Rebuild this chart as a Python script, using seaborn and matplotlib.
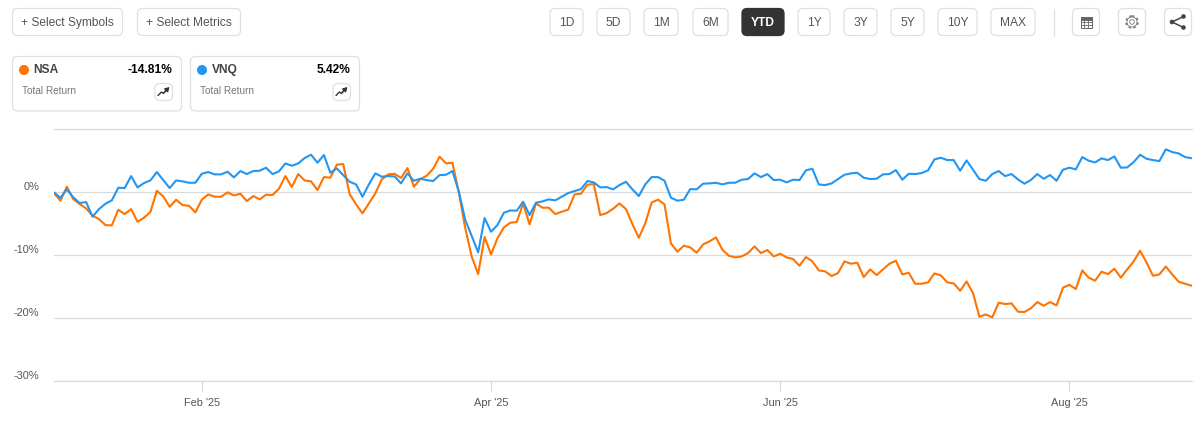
import matplotlib
matplotlib.use('Agg')
import matplotlib.pyplot as plt
import pandas as pd
import seaborn as sns
from matplotlib.patches import FancyBboxPatch, Circle, Rectangle

# Total return in percent, one value per trading day
nsa = [-0.11, -1.32, 0.90, -1.06, -1.85, -2.54, -3.70, -4.23, -5.19, -5.24,
       -2.75, -3.44, -2.65, -4.66, -4.02, -3.12, 0.26, -0.63, -2.28, -1.16,
       -2.01, -2.12, -3.17, -1.16, -0.32, -0.69, -0.69, 0.00, -0.48, -0.21,
       -1.38, -0.58, -1.11, -0.37, -0.42, 0.58, 2.59, 0.85, 2.91, 1.90,
       1.75, 0.37, 2.43, 2.33, 4.39, 4.50, -0.26, -1.90, -3.33, -1.75,
       -0.16, 2.06, 2.86, 2.96, 2.28, 3.86, 0.90, 2.12, 2.65, 3.76,
       5.66, 4.60, 4.71, -0.05, -5.71, -10.21, -12.96, -7.09, -9.84, -7.30,
       -5.56, -4.81, -4.71, -1.75, -5.08, -1.75, -2.43, -2.43, -3.44, -3.07,
       -2.75, -0.32, -0.21, 1.22, 1.32, -3.60, -3.28, -2.59, -1.75, -2.65,
       -5.03, -7.20, -4.92, -1.59, -1.16, -1.90, -8.10, -9.42, -8.47, -8.73,
       -9.58, -8.25, -7.78, -7.14, -9.10, -10.05, -10.32, -10.16, -9.63, -8.57,
       -9.63, -9.15, -10.16, -9.74, -10.32, -10.58, -11.64, -10.26, -10.95, -12.38,
       -12.54, -13.28, -12.80, -10.95, -11.32, -11.16, -13.44, -12.22, -13.12, -12.22,
       -11.32, -10.85, -13.02, -12.75, -14.50, -14.50, -14.29, -12.86, -13.17, -14.29,
       -14.44, -15.61, -14.13, -15.98, -19.74, -19.37, -19.84, -17.51, -17.72, -17.62,
       -18.94, -18.99, -18.41, -17.41, -17.99, -17.41, -17.94, -15.13, -14.66, -15.34,
       -12.38, -13.54, -14.02, -12.59, -12.96, -12.12, -13.54, -12.22, -10.95, -9.26,
       -11.11, -13.23, -13.02, -11.75, -13.02, -14.18, -14.50, -14.81]
vnq = [0.00, -0.85, 0.48, -0.79, -1.69, -1.53, -3.86, -2.65, -1.80, -1.27,
       0.74, 0.69, 2.59, 0.79, 1.48, 1.90, 3.23, 1.96, 0.69, 1.90,
       1.75, 1.53, 1.53, 2.96, 3.23, 2.86, 2.86, 3.28, 2.38, 3.39,
       2.91, 3.39, 3.44, 3.92, 2.91, 3.33, 4.60, 4.23, 4.60, 5.45,
       5.98, 4.71, 5.93, 3.12, 3.81, 2.75, 1.69, 1.27, -0.69, 1.27,
       3.02, 2.49, 2.59, 2.54, 1.43, 3.02, 1.85, 2.17, 1.96, 1.80,
       2.75, 2.80, 3.39, 0.11, -4.39, -6.93, -9.52, -4.07, -6.24, -5.19,
       -3.23, -2.86, -2.91, -1.48, -3.60, -1.64, -1.43, -1.11, -1.27, -0.69,
       -0.11, 0.21, 0.53, 1.80, 1.59, 0.79, 0.85, 0.48, 1.16, 1.69,
       0.48, -0.58, 1.27, 2.43, 2.43, 1.85, -0.85, -1.32, -1.16, 0.53,
       0.48, 1.38, 1.43, 1.53, 1.27, 1.53, 1.53, 2.01, 2.12, 3.02,
       2.43, 2.91, 1.96, 2.01, 1.59, 2.01, 1.96, 3.49, 3.76, 1.27,
       1.16, 1.43, 2.12, 2.80, 3.02, 3.12, 2.33, 2.12, 2.17, 2.86,
       2.91, 3.54, 2.01, 2.96, 2.91, 3.07, 3.49, 5.24, 5.50, 5.13,
       5.13, 3.44, 5.08, 3.60, 2.12, 1.85, 2.91, 3.39, 2.59, 2.91,
       2.06, 1.38, 1.96, 2.91, 2.17, 2.75, 1.85, 3.60, 3.92, 3.65,
       5.61, 5.03, 4.76, 5.40, 5.13, 5.71, 3.92, 3.97, 4.81, 5.98,
       5.34, 5.13, 4.97, 6.83, 6.40, 6.19, 5.61, 5.42]

y_ticks = [10, 0, -10, -20, -30]
y_labels = ['', '0%', '-10%', '-20%', '-30%']
x_ticks = [23, 68, 113, 158]
x_labels = ["Feb '25", "Apr '25", "Jun '25", "Aug '25"]

symbols = ['NSA', 'VNQ']
returns = ['-14.81%', '5.42%']
colors = ['#ff7300', '#2196f3']

range_names = ['1D', '5D', '1M', '6M', 'YTD', '1Y', '3Y', '5Y', '10Y', 'MAX']
range_left = [550, 597, 644, 693, 742, 798, 844, 891, 938, 991]
range_right = [583, 630, 678, 728, 784, 830, 877, 924, 977, 1035]

GRID = '#d9d9d9'
BORDER = '#e0e0e0'
TEXT = '#555555'

sns.set_theme(style='white')
plt.rcParams['font.family'] = ['Liberation Sans', 'DejaVu Sans']

fig = plt.figure(figsize=(12.04, 4.33), dpi=100)

# Chart area, placed in pixels of the reference
ax = fig.add_axes([54 / 1204, 1 - 381.4 / 433, 1137.5 / 1204, 252 / 433])
df = pd.DataFrame({'day': list(range(len(nsa))), 'NSA': nsa, 'VNQ': vnq})
df = df.melt(id_vars='day', var_name='symbol', value_name='ret')
sns.lineplot(data=df, x='day', y='ret', hue='symbol', hue_order=symbols,
             palette=colors, linewidth=1.5, legend=False, ax=ax, zorder=3)

ax.set_xlim(0, len(nsa) - 1)
ax.set_ylim(-30, 10)
ax.set_xlabel('')
ax.set_ylabel('')
ax.set_yticks(y_ticks)
ax.set_yticklabels(y_labels, fontsize=7.92, color=TEXT, va='bottom')
ax.set_xticks(x_ticks)
ax.set_xticklabels(x_labels, fontsize=7.92, color=TEXT)
ax.tick_params(axis='y', left=False, length=0, pad=10.8)
ax.tick_params(axis='x', bottom=True, length=7.2, width=0.85, color=GRID, pad=4.8)
ax.grid(True, axis='y', color=GRID, linewidth=0.85)
ax.grid(False, axis='x')
ax.set_axisbelow(True)
sns.despine(ax=ax, left=True, right=True, top=False, bottom=False)
for side in ['top', 'bottom']:
    ax.spines[side].set_color(GRID)
    ax.spines[side].set_linewidth(0.85)

# Toolbar and cards, same pixel coordinates as the reference
ui = fig.add_axes([0, 0, 1, 1], facecolor='none')
ui.set_xlim(0, 1204)
ui.set_ylim(433, 0)
ui.axis('off')


def button(x0, y0, x1, y1, r=5, face='white', edge=BORDER):
    ui.add_patch(FancyBboxPatch((x0 + r, y0 + r), x1 - x0 - 2 * r, y1 - y0 - 2 * r,
                                boxstyle=f'round,pad={r},rounding_size={r}',
                                facecolor=face, edgecolor=edge, linewidth=0.9))


def label(x, y, s, size=12, color=TEXT, ha='center', weight='normal'):
    ui.text(x, y + 0.8, s, fontsize=size * 0.72, color=color, ha=ha, va='center', fontweight=weight)


button(12.5, 8.5, 122.5, 35.5)
label(67.5, 22.5, '+ Select Symbols')
button(137.5, 8.5, 240.5, 35.5)
label(189, 22.5, '+ Select Metrics')

for name, left, right in zip(range_names, range_left, range_right):
    if name == 'YTD':
        button(left, 8.5, right, 35.5, face='#333333', edge='#333333')
        label((left + right) / 2, 22.5, name, color='white', weight='bold')
    else:
        button(left, 8.5, right, 35.5)
        label((left + right) / 2, 22.5, name)

ui.plot([1053.5, 1053.5], [8.5, 35.5], color=BORDER, lw=0.9)

# table icon
button(1072.5, 8.5, 1099.5, 35.5)
ui.add_patch(Rectangle((1080.5, 16.5), 11, 11, facecolor='white', edgecolor='#666666', lw=0.7))
ui.add_patch(Rectangle((1080.5, 16.5), 11, 3, facecolor='#666666', edgecolor='#666666', lw=0.7))
for gx in [1084.2, 1087.8]:
    ui.plot([gx, gx], [19.5, 27.5], color='#666666', lw=0.6)
for gy in [22.2, 24.9]:
    ui.plot([1080.5, 1091.5], [gy, gy], color='#666666', lw=0.6)

# gear icon
button(1118.5, 8.5, 1145.5, 35.5)
ui.add_patch(Circle((1132, 22), 2.3, facecolor='none', edgecolor='#777777', lw=0.6))
ui.add_patch(Circle((1132, 22), 5, facecolor='none', edgecolor='#777777', lw=0.6))
ui.add_patch(Circle((1132, 22), 6, facecolor='none', edgecolor='#777777', lw=1.2,
                    linestyle=(0, (1.4, 1.6))))

# share icon
button(1164.5, 8.5, 1191.5, 35.5)
ui.plot([1183.5, 1172, 1183.5], [16.5, 22, 27.5], color='#444444', lw=1.1)
for sx, sy in [(1183.5, 16.5), (1172, 22), (1183.5, 27.5)]:
    ui.add_patch(Circle((sx, sy), 2.3, facecolor='#444444', edgecolor='none'))

# legend cards
for i, left in enumerate([12.5, 190.5]):
    right = left + 169
    button(left, 56.5, right, 111)
    ui.add_patch(Circle((left + 11.5, 70), 5, facecolor=colors[i], edgecolor='none'))
    label(left + 21, 69.5, symbols[i], color='#444444', ha='left', weight='bold')
    label(right - 9, 69.5, returns[i], color='black', ha='right', weight='bold')
    label(left + 9, 90.5, 'Total Return', size=10, color='#777777', ha='left')
    button(right - 26.5, 83.5, right - 9, 100.5)
    ui.annotate('', xy=(right - 12, 87), xytext=(right - 17, 92),
                arrowprops=dict(arrowstyle='-|>,head_width=0.12,head_length=0.2',
                                color='#333333', lw=1, shrinkA=0, shrinkB=0))
    ui.plot([right - 23.5, right - 20, right - 18, right - 16],
            [95.5, 92, 93.5, 91], color='#333333', lw=1)

fig.savefig('out.png', dpi=100)
